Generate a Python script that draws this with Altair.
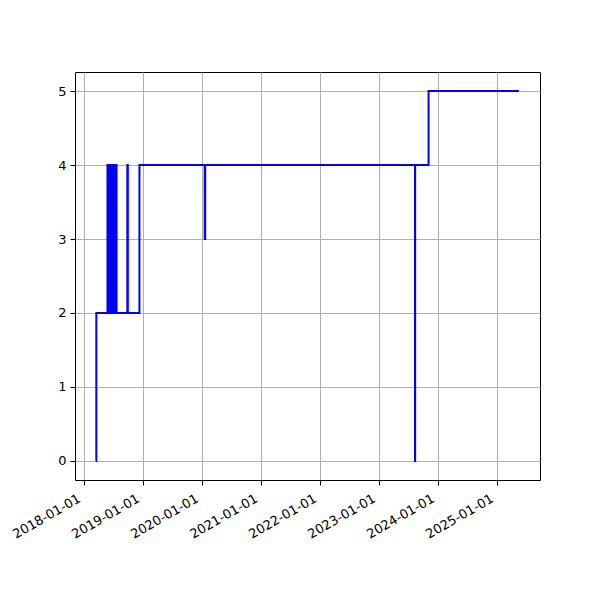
import altair as alt
import pandas as pd

dates = [
    "2018-03-16", "2018-03-18", "2018-05-26", "2018-05-28", "2018-05-31",
    "2018-06-02", "2018-06-05", "2018-06-08", "2018-06-11", "2018-06-14",
    "2018-06-17", "2018-06-21", "2018-06-24", "2018-06-28", "2018-07-01",
    "2018-07-05", "2018-07-09", "2018-07-13", "2018-07-16", "2018-07-21",
    "2018-09-26", "2018-09-29", "2018-12-10", "2020-01-18", "2020-01-21",
    "2023-08-12", "2023-08-13", "2023-11-04", "2025-05-16",
]
values = [
    0, 2, 4, 2, 4,
    2, 4, 2, 4, 2,
    4, 2, 4, 2, 4,
    2, 4, 2, 4, 2,
    4, 2, 4, 3, 4,
    0, 4, 5, 5,
]
tick_years = [2018, 2019, 2020, 2021, 2022, 2023, 2024, 2025]
y_ticks = [0, 1, 2, 3, 4, 5]

df = pd.DataFrame({"date": dates, "value": values})

font = "DejaVu Sans"

chart = alt.Chart(df).mark_line(
    interpolate="step-after", color="#0000ff", strokeWidth=2, clip=True
).encode(
    x=alt.X(
        "date:T",
        scale=alt.Scale(
            type="utc",
            domain=[alt.DateTime(year=2017, month=11, date=6, utc=True),
                    alt.DateTime(year=2025, month=9, date=24, utc=True)],
        ),
        axis=alt.Axis(
            title=None,
            values=[alt.DateTime(year=y, month=1, date=1, utc=True) for y in tick_years],
            labelExpr="utcFormat(datum.value, '%Y-%m-%d')",
            labelAngle=330,
            labelAlign="right",
            labelBaseline="top",
            labelPadding=7,
            labelOffset=-8,
            labelFont=font,
            labelFontSize=13,
            labelColor="#000000",
            tickColor="#000000",
            tickSize=5,
            tickWidth=1,
            domain=False,
            grid=True,
            gridColor="#b0b0b0",
            gridWidth=1,
            labelOverlap=False,
        ),
    ),
    y=alt.Y(
        "value:Q",
        scale=alt.Scale(domain=[-0.257, 5.257], nice=False, zero=False),
        axis=alt.Axis(
            title=None,
            values=y_ticks,
            format="d",
            labelFont=font,
            labelFontSize=13,
            labelColor="#000000",
            labelPadding=4,
            tickColor="#000000",
            tickSize=5,
            tickWidth=1,
            domain=False,
            grid=True,
            gridColor="#b0b0b0",
            gridWidth=1,
        ),
    ),
).properties(
    width=465,
    height=408,
    background="white",
    autosize=alt.AutoSizeParams(type="none"),
    padding={"left": 67, "top": 64, "right": 50, "bottom": 100},
).configure_view(
    stroke="#000000", strokeWidth=1
)

chart.save("out.html", embed_options={"renderer": "svg", "actions": False})
